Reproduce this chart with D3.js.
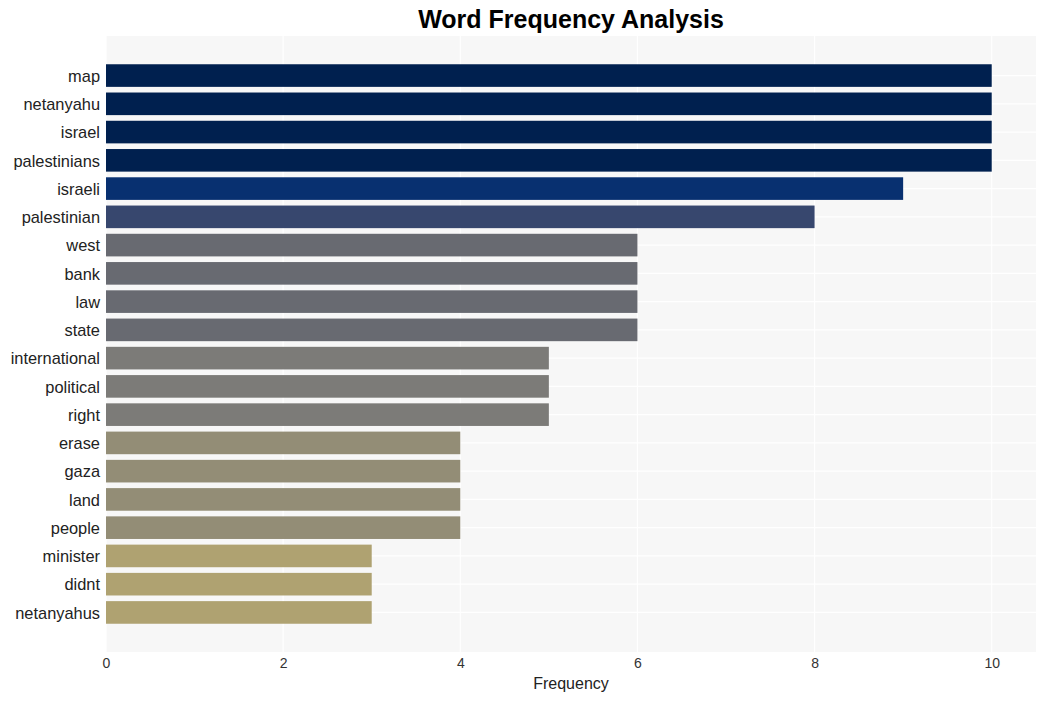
<!DOCTYPE html>
<html>
<head>
<meta charset="utf-8">
<script src="https://cdn.jsdelivr.net/npm/d3@7"></script>
<style>
  body { margin: 0; background: #fff; }
  text { font-family: "Liberation Sans", Arial, sans-serif; }
</style>
</head>
<body>
<svg id="chart" width="1045" height="701"></svg>
<script>
const words = ["map","netanyahu","israel","palestinians","israeli","palestinian","west","bank","law","state","international","political","right","erase","gaza","land","people","minister","didnt","netanyahus"];
const counts = [10,10,10,10,9,8,6,6,6,6,5,5,5,4,4,4,4,3,3,3];
const xTicks = [0,2,4,6,8,10];
const colorByCount = {10:"#00204f", 9:"#083070", 8:"#37476e", 6:"#686a71", 5:"#7c7b78", 4:"#938d76", 3:"#afa271"};

const svg = d3.select("#chart");
const mLeft = 106, mRight = 1036, mTop = 36, mBottom = 652;

svg.append("rect").attr("x", mLeft).attr("y", mTop).attr("width", mRight-mLeft).attr("height", mBottom-mTop).attr("fill", "#f7f7f7");

const x = d3.scaleLinear().domain([0, 10.5]).range([mLeft, mRight]);
const y = d3.scaleBand().domain(words).range([mTop, mBottom]).paddingInner(0.2).paddingOuter(1.0);

// vertical grid
svg.append("g").selectAll("line").data(xTicks).join("line")
  .attr("x1", d => x(d)).attr("x2", d => x(d)).attr("y1", mTop).attr("y2", mBottom)
  .attr("stroke", "#ffffff").attr("stroke-width", 1.2);
// horizontal grid
svg.append("g").selectAll("line").data(words).join("line")
  .attr("x1", mLeft).attr("x2", mRight).attr("y1", d => y(d) + y.bandwidth()/2).attr("y2", d => y(d) + y.bandwidth()/2)
  .attr("stroke", "#ffffff").attr("stroke-width", 1.2);

// bars
svg.append("g").selectAll("rect").data(words).join("rect")
  .attr("x", x(0)).attr("y", d => y(d))
  .attr("width", (d, i) => x(counts[i]) - x(0))
  .attr("height", y.bandwidth())
  .attr("fill", (d, i) => colorByCount[counts[i]]);

// y labels
const yAxis = d3.axisLeft(y).tickSize(0).tickPadding(6);
const gy = svg.append("g").attr("transform", `translate(${mLeft},1)`).call(yAxis);
gy.select(".domain").remove();
gy.selectAll("text").attr("font-size", 16.4).attr("fill", "#222").style("font-family", "\"Liberation Sans\", Arial, sans-serif");

// x axis
const xAxis = d3.axisBottom(x).tickValues(xTicks).tickSize(0).tickPadding(5).tickFormat(d3.format("d"));
const gx = svg.append("g").attr("transform", `translate(0,${mBottom+1})`).call(xAxis);
gx.select(".domain").remove();
gx.selectAll("text").attr("font-size", 14).attr("fill", "#333").style("font-family", "\"Liberation Sans\", Arial, sans-serif");

svg.append("text").attr("x", (mLeft+mRight)/2).attr("y", 689).attr("text-anchor", "middle")
  .attr("font-size", 16).attr("fill", "#222").text("Frequency");

svg.append("text").attr("x", (mLeft+mRight)/2).attr("y", 28).attr("text-anchor", "middle")
  .attr("font-size", 25).attr("font-weight", "bold").attr("fill", "#000").text("Word Frequency Analysis");
</script>
</body>
</html>
